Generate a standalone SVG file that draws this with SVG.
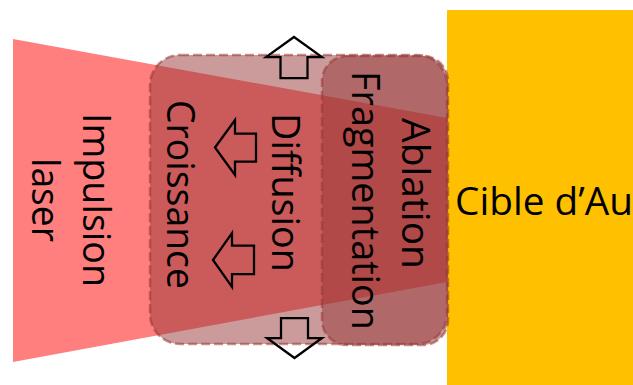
<svg xmlns="http://www.w3.org/2000/svg" width="633" height="385" viewBox="0 0 633 385">
  <style>
    .lbl { font-family: "Open Sans", "Liberation Sans", sans-serif; font-size: 38px; fill: #000; }
    .zone { fill: #953735; fill-opacity: 0.5; stroke: #953735; stroke-opacity: 0.55; stroke-width: 2.5; stroke-dasharray: 9 4; }
    .blk { fill: none; stroke: #000; stroke-width: 2.25; stroke-linejoin: miter; }
  </style>
  <rect width="633" height="385" fill="#fff"/>
  <g id="target">
    <rect x="447" y="10" width="186" height="375" fill="#FFC000"/>
    <text class="lbl" x="455" y="215" textLength="178" lengthAdjust="spacingAndGlyphs">Cible d’Au</text>
  </g>
  <g id="laser">
    <polygon points="13,39 447,118 447,282 13,362" fill="#FF7F7F"/>
    <text class="lbl" text-anchor="middle" textLength="174" lengthAdjust="spacingAndGlyphs" transform="translate(83,200) rotate(90)">Impulsion</text>
    <text class="lbl" text-anchor="middle" textLength="84" lengthAdjust="spacingAndGlyphs" transform="translate(32,200) rotate(90)">laser</text>
  </g>
  <g id="zone-diffusion">
    <rect class="zone" x="150" y="55" width="297" height="289" rx="30" ry="30"/>
    <text class="lbl" text-anchor="middle" textLength="159" lengthAdjust="spacingAndGlyphs" transform="translate(272,192.5) rotate(90)">Diffusion</text>
    <text class="lbl" text-anchor="middle" textLength="189" lengthAdjust="spacingAndGlyphs" transform="translate(167,194.5) rotate(90)">Croissance</text>
  </g>
  <g id="zone-ablation">
    <rect class="zone" x="322" y="56" width="126" height="289" rx="25" ry="25"/>
    <text class="lbl" text-anchor="middle" textLength="151" lengthAdjust="spacingAndGlyphs" transform="translate(402,193.5) rotate(90)">Ablation</text>
    <text class="lbl" text-anchor="middle" textLength="259" lengthAdjust="spacingAndGlyphs" transform="translate(352,200.5) rotate(90)">Fragmentation</text>
  </g>
  <g id="arrows">
    <path class="blk" d="M294,37 L322,57 L307.5,57 L307.5,78 L280.5,78 L280.5,57 L266,57 Z"/>
    <path class="blk" d="M294.5,358 L322,338 L308,338 L308,318 L281,318 L281,338 L267,338 Z"/>
    <path class="blk" d="M215,147.5 L235,120 L235,133.5 L256,133.5 L256,161.5 L235,161.5 L235,175 Z"/>
    <path class="blk" d="M213,260 L232,233 L232,245.5 L254,245.5 L254,274 L232,274 L232,287 Z"/>
  </g>
</svg>
